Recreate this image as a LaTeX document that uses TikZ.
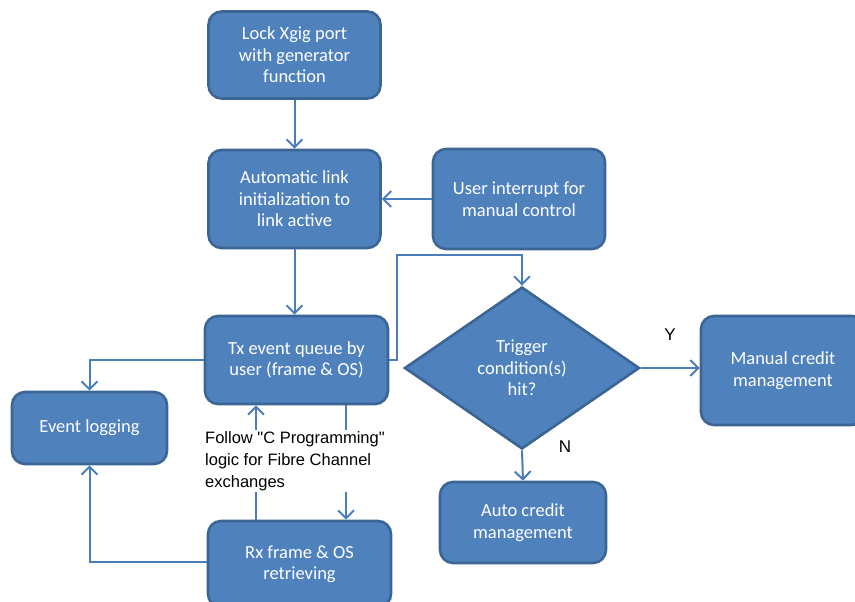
\documentclass[tikz,border=0pt]{standalone}
\usepackage{fontspec}
\setmainfont{Carlito}
\newfontfamily\arialf{Liberation Sans}
\usetikzlibrary{arrows.meta,shapes.geometric}
\definecolor{boxfill}{HTML}{4F81BD}
\definecolor{boxline}{HTML}{3A6594}
\definecolor{conn}{HTML}{4A7EBB}
\tikzset{
  flowbox/.style={draw=boxline, line width=2.6pt, fill=boxfill, rounded corners=13pt,
    text=white, align=center, inner sep=0pt, font=\fontsize{18.5}{21.5}\selectfont},
  decide/.style={diamond, draw=boxline, line width=2.6pt, fill=boxfill, text=white,
    align=center, inner sep=0pt, aspect=1.45, font=\fontsize{18.5}{21.5}\selectfont},
  conn/.style={draw=conn, line width=2pt, -{Straight Barb[length=8pt,width=16pt,line width=2pt]}},
  lbl/.style={font=\arialf\fontsize{16.5}{22}\selectfont, text=black}
}
\begin{document}
\begin{tikzpicture}[x=1pt,y=-1pt]
\useasboundingbox (0,0) rectangle (855,602);
\clip (0,0) rectangle (855,602);
\node[flowbox, minimum width=172pt, minimum height=87pt] (lock) at (294.5,55) {Lock Xgig port\\with generator\\function};
\node[flowbox, minimum width=172pt, minimum height=98pt] (auto) at (294.5,199) {Automatic link\\initialization to\\link active};
\node[flowbox, minimum width=172pt, minimum height=100pt] (user) at (519,199) {User interrupt for\\manual control};
\node[flowbox, minimum width=183pt, minimum height=88pt] (tx) at (296.5,360) {Tx event queue by\\user (frame \& OS)};
\node[flowbox, minimum width=155pt, minimum height=72pt] (log) at (89.5,428) {Event logging};
\node[flowbox, minimum width=183pt, minimum height=86pt] (rx) at (299.5,564) {Rx frame \& OS\\retrieving};
\node[decide, minimum width=235pt, minimum height=162pt] (trig) at (522,368) {Trigger\\condition(s)\\hit?};
\node[flowbox, minimum width=164pt, minimum height=109pt] (man) at (783,370.5) {Manual credit\\management};
\node[flowbox, minimum width=166pt, minimum height=81pt] (acm) at (523,522.5) {Auto credit\\management};

\coordinate (t1) at (397,360);
\coordinate (t2) at (397,255);
\coordinate (t3) at (522,255);
\coordinate (l1) at (89.5,360);
\coordinate (l2) at (89.5,562);

\draw[conn] (lock.south) -- (auto.north);
\draw[conn] (auto.south) -- (auto.south |- tx.north);
\draw[conn] (user.west) -- (auto.east);
\draw[conn] (tx.east |- t1) -- (t1) -- (t2) -- (t3) -- (trig.north);
\draw[conn] (tx.west |- l1) -- (l1) -- (log.north);
\draw[conn] (rx.west |- l2) -- (l2) -- (log.south);
\draw[conn] (trig.east) -- (trig.east -| man.west);
\draw[conn] (trig.south) -- (acm.north);
\draw[conn] (rx.north -| 256,0) -- (tx.south -| 256,0);
\draw[conn] (tx.south -| 346,0) -- (rx.north -| 346,0);

\node[lbl, fill=white, align=left, inner sep=1pt, anchor=west] (note) at (204,461) {Follow "C Programming"\\logic for Fibre Channel\\exchanges};
\node[lbl, font=\arialf\fontsize{17}{20}\selectfont] (ylab) at (670,335) {Y};
\node[lbl, font=\arialf\fontsize{17}{20}\selectfont] (nlab) at (565,447) {N};
\end{tikzpicture}
\end{document}
